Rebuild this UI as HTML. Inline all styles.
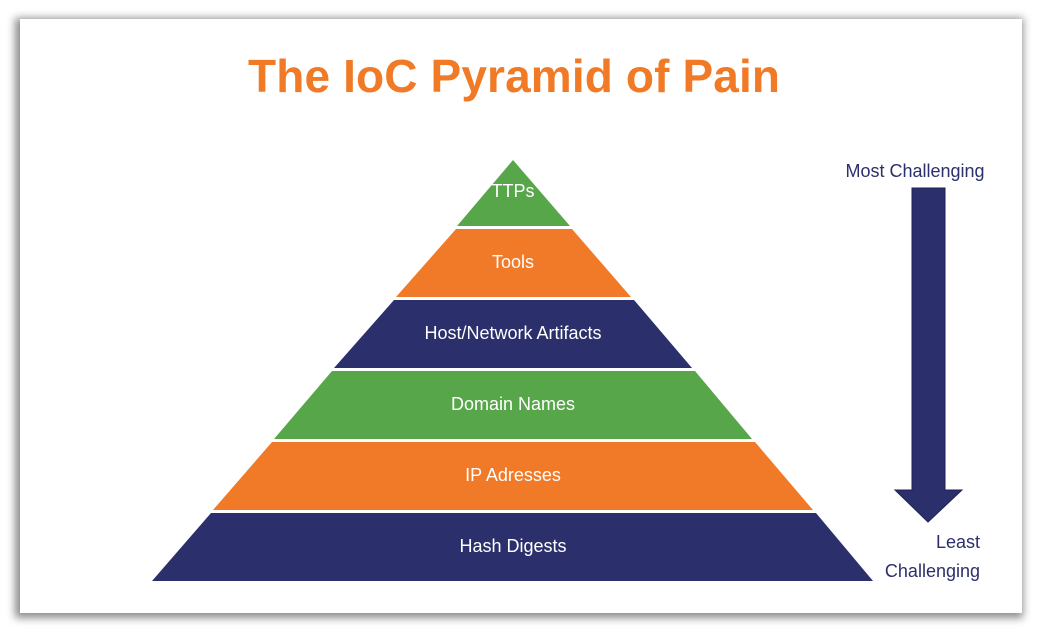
<!DOCTYPE html>
<html><head><style>
body{margin:0;width:1041px;height:633px;background:#fff;overflow:hidden;font-family:"Liberation Sans",sans-serif}
.card{position:absolute;left:20px;top:19px;width:1002px;height:594px;background:#fff;box-shadow:-2px 2px 8px 3px rgba(0,0,0,0.45)}
</style></head><body>
<div class="card"></div>
<svg width="1041" height="633" style="position:absolute;left:0;top:0">
<text x="514" y="92" text-anchor="middle" font-family="Liberation Sans" font-weight="bold" font-size="46" fill="#f07a26" textLength="532">The IoC Pyramid of Pain</text>
<g font-family="Liberation Sans" font-size="18" fill="#fff" text-anchor="middle">
<polygon points="513,160 457,226 570,226" fill="#57a64a"/>
<polygon points="456,229 572,229 631,297 396,297" fill="#f07a28"/>
<polygon points="394,300 634,300 692,368 334,368" fill="#2b2f6b"/>
<polygon points="332,371 695,371 752,439 274,439" fill="#57a64a"/>
<polygon points="272,442 755,442 813,510 213,510" fill="#f07a28"/>
<polygon points="211,513 816,513 873,581 152,581" fill="#2b2f6b"/>
<text x="513" y="197">TTPs</text>
<text x="513" y="268">Tools</text>
<text x="513" y="339">Host/Network Artifacts</text>
<text x="513" y="410">Domain Names</text>
<text x="513" y="481">IP Adresses</text>
<text x="513" y="552">Hash Digests</text>
</g>
<g font-family="Liberation Sans" font-size="18" fill="#2b2f6b">
<text x="915" y="177" text-anchor="middle">Most Challenging</text>
<text x="980" y="548" text-anchor="end">Least</text>
<text x="980" y="577" text-anchor="end">Challenging</text>
</g>
<polygon points="912,188 945,188 945,490 962,490 928,522 895,490 912,490" fill="#2b2f6b" stroke="#1f2255" stroke-width="1"/>
</svg>
</body></html>
